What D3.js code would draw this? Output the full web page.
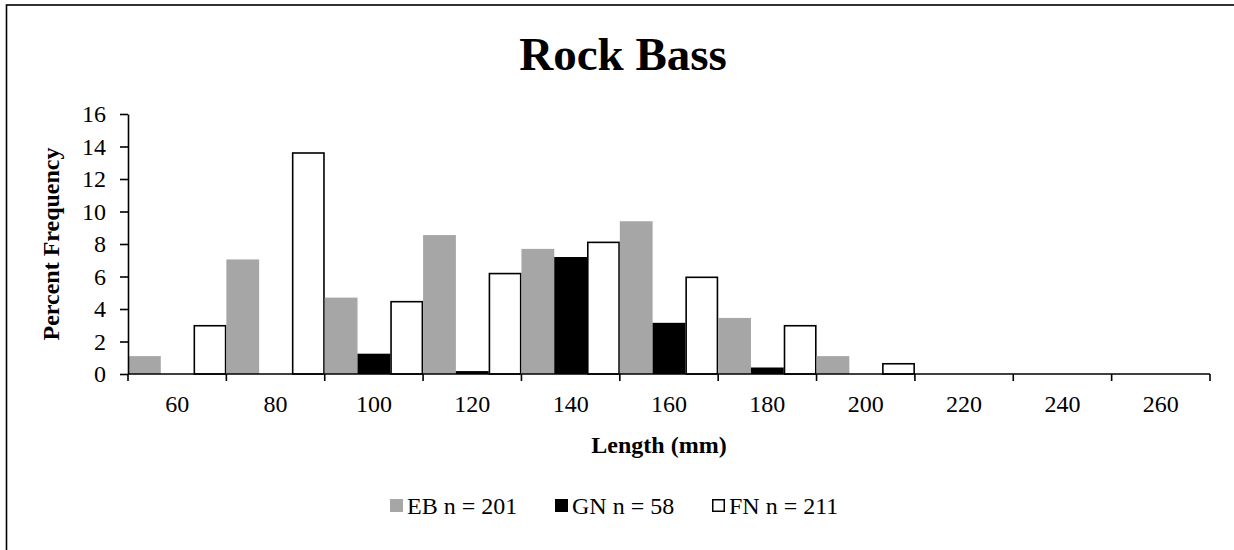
<!DOCTYPE html>
<html>
<head>
<meta charset="utf-8">
<script src="https://cdn.jsdelivr.net/npm/d3@7"></script>
<style>
  html, body { margin: 0; padding: 0; background: #fff; }
  svg { display: block; }
  text { font-family: "Liberation Serif", "Times New Roman", serif; fill: #000; }
</style>
</head>
<body>
<svg id="chart" width="1234" height="550"></svg>
<script>
// ---- data ----
const categories = ["60", "80", "100", "120", "140", "160", "180", "200", "220", "240", "260"];
const seriesNames = ["EB n = 201", "GN n = 58", "FN n = 211"];
const ebValues = [1.1, 7.05, 4.7, 8.55, 7.7, 9.4, 3.45, 1.1, 0, 0, 0];
const gnValues = [0, 0, 1.25, 0.18, 7.2, 3.15, 0.4, 0, 0, 0, 0];
const fnValues = [2.97, 13.6, 4.45, 6.18, 8.1, 5.95, 2.97, 0.63, 0, 0, 0];
const yTicks = [0, 2, 4, 6, 8, 10, 12, 14, 16];
const titleText = "Rock Bass";
const xTitle = "Length (mm)";
const yTitle = "Percent Frequency";

const seriesStyle = [
  { fill: "#a6a6a6", stroke: "none" },
  { fill: "#000000", stroke: "none" },
  { fill: "#ffffff", stroke: "#000000" }
];
const seriesValues = [ebValues, gnValues, fnValues];

const svg = d3.select("#chart");

// outer border
svg.append("rect")
  .attr("x", 6.5).attr("y", 5)
  .attr("width", 1300).attr("height", 600)
  .attr("fill", "none").attr("stroke", "#000").attr("stroke-width", 1.6);

const plot = { left: 128, right: 1210, top: 114, bottom: 374 };

const x0 = d3.scaleBand().domain(categories).range([plot.left, plot.right]).padding(0);
const x1 = d3.scaleBand().domain(d3.range(3)).range([0, x0.bandwidth()]).padding(0);
const y = d3.scaleLinear().domain([0, 16]).range([plot.bottom, plot.top]);

// bars
const groups = svg.append("g").selectAll("g")
  .data(categories)
  .join("g")
  .attr("transform", d => `translate(${x0(d)},0)`);

groups.selectAll("rect")
  .data((d, i) => seriesValues.map((vals, s) => ({ s, v: vals[i] })))
  .join("rect")
  .filter(d => d.v > 0)
  .attr("x", d => x1(d.s) + (d.s === 2 ? 0.75 : 0))
  .attr("width", d => x1.bandwidth() - (d.s === 2 ? 1.5 : 0))
  .attr("y", d => y(d.v))
  .attr("height", d => y(0) - y(d.v))
  .attr("fill", d => seriesStyle[d.s].fill)
  .attr("stroke", d => seriesStyle[d.s].stroke)
  .attr("stroke-width", 1.6);

// y axis
const yAxis = svg.append("g")
  .attr("transform", `translate(${plot.left},0)`)
  .call(d3.axisLeft(y).tickValues(yTicks).tickSize(8).tickPadding(14).tickSizeOuter(0));
yAxis.select(".domain").attr("stroke-width", 1.6);
yAxis.selectAll(".tick line").attr("stroke-width", 1.6);
yAxis.selectAll("text").style("font-size", "24px");

// x axis: ticks at category boundaries
const boundaries = categories.map(c => x0(c)).concat([plot.right]);
const xAxisG = svg.append("g").attr("transform", `translate(0,${plot.bottom})`);
xAxisG.append("line")
  .attr("x1", plot.left).attr("x2", plot.right)
  .attr("stroke", "#000").attr("stroke-width", 1.6);
xAxisG.selectAll("line.tk")
  .data(boundaries)
  .join("line").attr("class", "tk")
  .attr("x1", d => d).attr("x2", d => d)
  .attr("y1", 0).attr("y2", 7)
  .attr("stroke", "#000").attr("stroke-width", 1.6);
xAxisG.selectAll("text")
  .data(categories)
  .join("text")
  .attr("x", d => x0(d) + x0.bandwidth() / 2)
  .attr("y", 38)
  .attr("text-anchor", "middle")
  .style("font-size", "24px")
  .text(d => d);

// title
svg.append("text")
  .attr("x", 623).attr("y", 70)
  .attr("text-anchor", "middle")
  .style("font-size", "47px").style("font-weight", "bold")
  .text(titleText);

// axis titles
svg.append("text")
  .attr("x", 659).attr("y", 453)
  .attr("text-anchor", "middle")
  .style("font-size", "24px").style("font-weight", "bold")
  .text(xTitle);

svg.append("text")
  .attr("transform", "translate(59,244) rotate(-90)")
  .attr("text-anchor", "middle")
  .style("font-size", "24px").style("font-weight", "bold")
  .text(yTitle);

// legend
const legendX = [390, 555, 712];
const legend = svg.append("g").selectAll("g")
  .data(seriesNames)
  .join("g")
  .attr("transform", (d, i) => `translate(${legendX[i]},499)`);
legend.append("rect")
  .attr("x", (d, i) => i === 2 ? 0.75 : 0)
  .attr("y", (d, i) => i === 2 ? 0.75 : 0)
  .attr("width", (d, i) => i === 2 ? 11.5 : 13)
  .attr("height", (d, i) => i === 2 ? 11.5 : 13)
  .attr("fill", (d, i) => seriesStyle[i].fill)
  .attr("stroke", (d, i) => seriesStyle[i].stroke)
  .attr("stroke-width", 1.5);
legend.append("text")
  .attr("x", 17).attr("y", 14.5)
  .style("font-size", "24px")
  .text(d => d);
</script>
</body>
</html>
